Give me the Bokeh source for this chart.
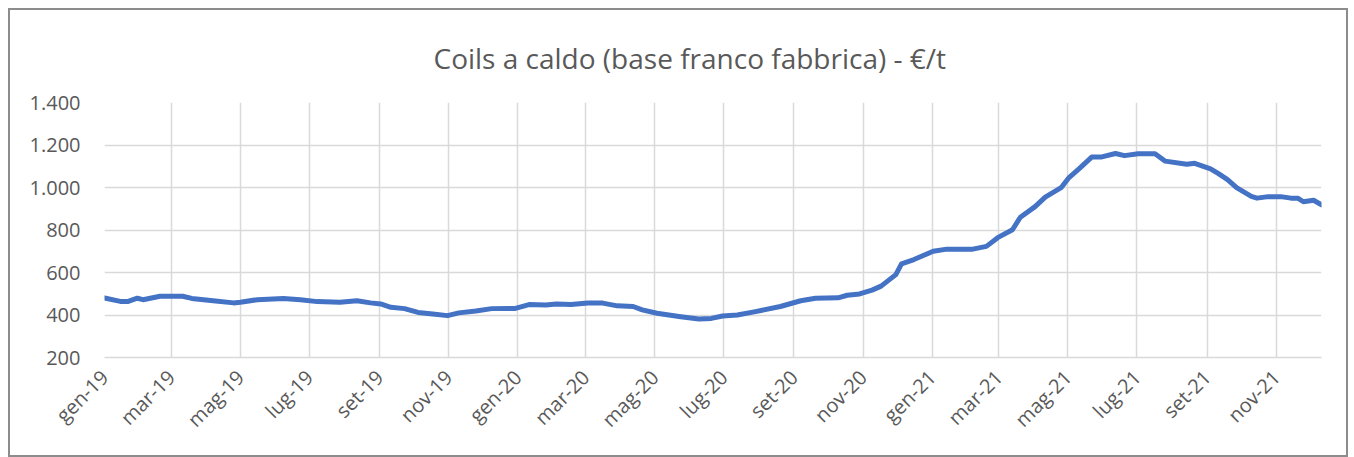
from datetime import datetime
from math import pi
from bokeh.plotting import figure
from bokeh.models import Range1d, FixedTicker, ColumnDataSource
from bokeh.embed import file_html
from bokeh.resources import INLINE

# ---- data ----
dates = [
    "2019-01-01", "2019-01-15", "2019-01-22", "2019-01-30", "2019-02-04", "2019-02-19",
    "2019-03-11", "2019-03-19", "2019-04-07", "2019-04-25", "2019-05-01", "2019-05-16",
    "2019-06-08", "2019-06-23", "2019-07-08", "2019-07-28", "2019-08-12", "2019-08-24",
    "2019-09-02", "2019-09-11", "2019-09-23", "2019-10-05", "2019-10-18", "2019-10-31",
    "2019-11-10", "2019-11-25", "2019-12-09", "2019-12-30", "2020-01-11", "2020-01-26",
    "2020-02-04", "2020-02-17", "2020-03-03", "2020-03-16", "2020-03-29", "2020-04-12",
    "2020-04-20", "2020-05-03", "2020-05-24", "2020-06-09", "2020-06-20", "2020-06-30",
    "2020-07-13", "2020-07-29", "2020-08-20", "2020-09-07", "2020-09-20", "2020-10-10",
    "2020-10-18", "2020-10-29", "2020-11-09", "2020-11-17", "2020-11-30", "2020-12-05",
    "2020-12-16", "2021-01-02", "2021-01-14", "2021-02-06", "2021-02-18", "2021-02-28",
    "2021-03-13", "2021-03-20", "2021-04-02", "2021-04-11", "2021-04-25", "2021-05-02",
    "2021-05-11", "2021-05-22", "2021-05-31", "2021-06-12", "2021-06-20", "2021-07-02",
    "2021-07-17", "2021-07-26", "2021-08-14", "2021-08-21", "2021-09-04", "2021-09-11",
    "2021-09-19", "2021-09-27", "2021-10-10", "2021-10-15", "2021-10-25", "2021-11-05",
    "2021-11-14", "2021-11-20", "2021-11-25", "2021-12-04", "2021-12-11",
]
prices = [
    480, 464, 464, 479, 472, 488,
    488, 478, 467, 457, 460, 472,
    478, 472, 463, 460, 467, 457,
    452, 436, 430, 412, 405, 397,
    410, 419, 430, 431, 449, 447,
    452, 449, 457, 456, 443, 440,
    424, 408, 392, 381, 384, 395,
    400, 416, 440, 467, 479, 481,
    493, 499, 517, 536, 590, 641,
    661, 700, 710, 710, 723, 764,
    801, 860, 910, 955, 999, 1047,
    1089, 1143, 1144, 1160, 1150, 1159,
    1159, 1124, 1109, 1114, 1088, 1065,
    1037, 999, 958, 950, 957, 957,
    950, 950, 933, 940, 918,
]
tick_dates = ["2019-01-01", "2019-03-01", "2019-05-01", "2019-07-01", "2019-09-01", "2019-11-01",
              "2020-01-01", "2020-03-01", "2020-05-01", "2020-07-01", "2020-09-01", "2020-11-01",
              "2021-01-01", "2021-03-01", "2021-05-01", "2021-07-01", "2021-09-01", "2021-11-01"]
tick_labels = ["gen-19", "mar-19", "mag-19", "lug-19", "set-19", "nov-19",
               "gen-20", "mar-20", "mag-20", "lug-20", "set-20", "nov-20",
               "gen-21", "mar-21", "mag-21", "lug-21", "set-21", "nov-21"]
y_ticks = [200, 400, 600, 800, 1000, 1200, 1400]
y_tick_labels = ["200", "400", "600", "800", "1.000", "1.200", "1.400"]
title_text = "Coils a caldo (base franco fabbrica) - €/t"

# ---- build ----
EPOCH = datetime(1970, 1, 1)
def ms(s):
    return (datetime.strptime(s, "%Y-%m-%d") - EPOCH).total_seconds() * 1000.0

xs = [datetime.strptime(d, "%Y-%m-%d") for d in dates]
src = ColumnDataSource(dict(x=xs, y=prices))

FONT = "Open Sans"
TXT = "#595959"
GRID = "#d9d9d9"

p = figure(width=1340, height=449, x_axis_type="datetime",
           output_backend="svg", toolbar_location=None,
           x_range=Range1d(ms(dates[0]), ms(dates[-1])),
           y_range=Range1d(200, 1400),
           min_border_left=94, min_border_right=29,
           min_border_top=92, min_border_bottom=102)
p.styles = {"border": "2px solid #8c8c8c", "box-sizing": "border-box",
            "margin-left": "8px", "margin-top": "8px"}
p.outline_line_color = None

p.title.text = title_text
p.title.align = "left"
p.title.offset = 329
p.title.text_font = FONT
p.title.text_font_size = "28px"
p.title.text_font_style = "normal"
p.title.text_color = TXT
p.title.standoff = 52

p.line("x", "y", source=src, line_color="#4472C4", line_width=5,
       line_join="round", line_cap="round")

xt = [ms(d) for d in tick_dates]
p.xaxis.ticker = FixedTicker(ticks=xt)
p.xaxis.major_label_overrides = {t: l for t, l in zip(xt, tick_labels)}
p.xaxis.major_label_orientation = pi / 4
p.yaxis.ticker = FixedTicker(ticks=y_ticks)
p.yaxis.major_label_overrides = {t: l for t, l in zip(y_ticks, y_tick_labels)}

for ax in (p.xaxis, p.yaxis):
    ax.major_tick_line_color = None
    ax.minor_tick_line_color = None
    ax.major_label_text_font = FONT
    ax.major_label_text_font_size = "20px"
    ax.major_label_text_color = TXT
p.yaxis.axis_line_color = None
p.xaxis.axis_line_color = GRID
p.xaxis.axis_line_width = 1.5
p.yaxis.major_label_standoff = 18
p.xaxis.major_label_standoff = 10

p.xgrid.ticker = FixedTicker(ticks=xt)
p.ygrid.ticker = FixedTicker(ticks=y_ticks)
for g in (p.xgrid, p.ygrid):
    g.grid_line_color = GRID
    g.grid_line_width = 1.5

open("out.html", "w").write(file_html(p, INLINE))
